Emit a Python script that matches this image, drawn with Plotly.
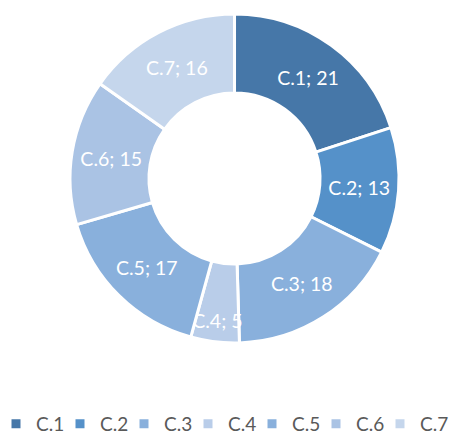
import plotly.graph_objects as go

labels = ["C.1", "C.2", "C.3", "C.4", "C.5", "C.6", "C.7"]
values = [21, 13, 18, 5, 17, 15, 16]
colors = ["#4677a8", "#5591c9", "#89b0dc", "#b9cde9", "#89b0dc", "#aac3e4", "#c5d6ec"]

fig = go.Figure(go.Pie(
    labels=labels,
    values=values,
    sort=False,
    direction="clockwise",
    rotation=0,
    hole=0.52,
    marker=dict(colors=colors, line=dict(color="white", width=3)),
    texttemplate="%{label}; %{value}",
    textposition="inside",
    insidetextorientation="horizontal",
    textfont=dict(color="white", size=19.5, family="Lato"),
    domain=dict(x=[0.1325, 0.8355], y=[0.2334, 0.9863]),
))

fig.update_layout(
    width=468, height=437,
    margin=dict(l=0, r=0, t=0, b=0),
    paper_bgcolor="white",
    font=dict(family="Lato", color="#595959"),
    showlegend=True,
    uniformtext=dict(minsize=19.5, mode="show"),
    legend=dict(
        orientation="h", x=0, xanchor="left", y=0.048, yanchor="middle",
        font=dict(size=19, color="#595959"),
        entrywidth=31, itemwidth=30, traceorder="normal",
        indentation=-12,
    ),
)

fig.write_html("out.html")
